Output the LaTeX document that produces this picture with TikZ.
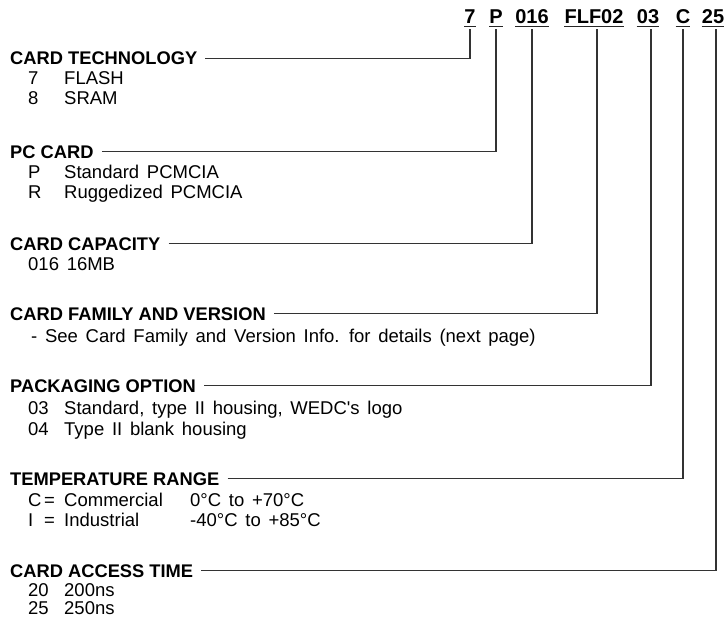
\documentclass[tikz,border=0pt]{standalone}
\usepackage{fontspec}
\setmainfont{Liberation Sans}
\newfontfamily\itemfont[WordSpace=1.5]{Liberation Sans}
\begin{document}
\begin{tikzpicture}[x=1pt,y=-1pt,
    heading/.style={anchor=base west, inner sep=0pt, font=\fontsize{18.3}{18}\selectfont\bfseries},
    item/.style={anchor=base west, inner sep=0pt, font=\itemfont\fontsize{18.5}{18}\selectfont},
    code/.style={anchor=base, inner sep=0pt, font=\fontsize{20}{20}\selectfont\bfseries},
    lead/.style={draw=black!80, line width=1.3pt},
    uline/.style={draw=black!85, line width=1.5pt}]

    % Colonne
    \def\colKey{28}
    \def\colText{64}

    \useasboundingbox (0,0) rectangle (725,623);

    % Codice ordinazione
    \node[code] (c7) at (470,24) {7};
    \node[code] (cP) at (496,24) {P};
    \node[code] (c016) at (532,24) {016};
    \node[code] (cFLF) at (594,24) {FLF02};
    \node[code] (c03) at (648,24) {03};
    \node[code] (cC) at (683,24) {C};
    \node[code] (c25) at (713,24) {25};
    \foreach \c in {c7,cP,c016,cFLF,c03,cC,c25}
        \draw[uline] ([yshift=-2.5pt]\c.base west) -- ([yshift=-2.5pt]\c.base east);

    % Card technology
    \node[heading] (tech) at (10,65) {CARD TECHNOLOGY};
    \node[item] (tech7) at (\colKey,85) {7};
    \node[item] (techflash) at (\colText,85) {FLASH};
    \node[item] (tech8) at (\colKey,105) {8};
    \node[item] (techsram) at (\colText,105) {SRAM};

    % PC card
    \node[heading] (pccard) at (10,158) {PC CARD};
    \node[item] (pcP) at (\colKey,178) {P};
    \node[item] (pcstd) at (\colText,178) {Standard PCMCIA};
    \node[item] (pcR) at (\colKey,198) {R};
    \node[item] (pcrug) at (\colText,198) {Ruggedized PCMCIA};

    % Card capacity
    \node[heading] (capacity) at (10,250) {CARD CAPACITY};
    \node[item] (cap016) at (\colKey,270) {016 16MB};

    % Card family
    \node[heading] (family) at (10,320) {CARD FAMILY AND VERSION};
    \node[item] (famnote) at (31,342) {- See Card Family and Version Info. for details (next page)};

    % Packaging
    \node[heading] (packaging) at (10,392) {PACKAGING OPTION};
    \node[item] (pack03) at (\colKey,414) {03};
    \node[item] (packstd) at (\colText,414) {Standard, type II housing, WEDC's logo};
    \node[item] (pack04) at (\colKey,435) {04};
    \node[item] (packblank) at (\colText,435) {Type II blank housing};

    % Temperature range
    \node[heading] (temp) at (10,485) {TEMPERATURE RANGE};
    \node[item] (tempC) at (\colKey,506) {C};
    \node[item] (tempCeq) at (44,506) {=};
    \node[item] (tempcom) at (\colText,506) {Commercial};
    \node[item] (tempcomrange) at (190,506) {0°C to +70°C};
    \node[item] (tempI) at (\colKey,526) {I};
    \node[item] (tempIeq) at (44,526) {=};
    \node[item] (tempind) at (\colText,526) {Industrial};
    \node[item] (tempindrange) at (190,526) {-40°C to +85°C};

    % Card access time
    \node[heading] (access) at (10,577) {CARD ACCESS TIME};
    \node[item] (acc20) at (\colKey,596) {20};
    \node[item] (acc200) at (\colText,596) {200ns};
    \node[item] (acc25) at (\colKey,614) {25};
    \node[item] (acc250) at (\colText,614) {250ns};

    % Linee di richiamo
    \draw[lead] ([xshift=8pt]tech.east) -| ([yshift=-5pt]c7.base);
    \draw[lead] ([xshift=8pt]pccard.east) -| ([yshift=-5pt]cP.base);
    \draw[lead] ([xshift=8pt]capacity.east) -| ([yshift=-5pt]c016.base);
    \draw[lead] ([xshift=8pt]family.east) -| ([xshift=3pt,yshift=-5pt]cFLF.base);
    \draw[lead] ([xshift=8pt]packaging.east) -| ([xshift=3pt,yshift=-5pt]c03.base);
    \draw[lead] ([xshift=8pt]temp.east) -| ([yshift=-5pt]cC.base);
    \draw[lead] ([xshift=8pt]access.east) -| ([xshift=3pt,yshift=-5pt]c25.base);

\end{tikzpicture}
\end{document}
